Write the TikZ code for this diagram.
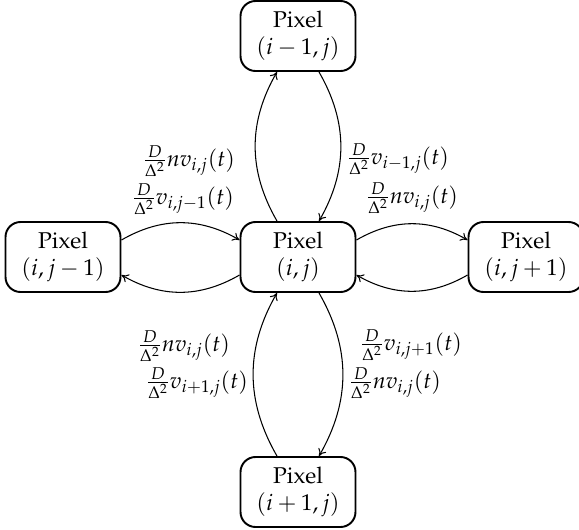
\documentclass[tikz,border=0pt]{standalone}
\usepackage[T1]{fontenc}
\usepackage{mathpazo}
\usetikzlibrary{arrows.meta}

\begin{document}
\begin{tikzpicture}[x=0.02cm, y=-0.02cm,
  pixel/.style={draw, line width=1.1pt, rounded corners=0.3cm, minimum width=2.3cm, minimum height=1.4cm, align=center, font=\fontsize{13}{15.5}\selectfont},
  flow/.style={line width=0.6pt, -{To[length=4pt,width=5pt]}, bend left=30},
  rate/.style={font=\fontsize{12.8}{15}\selectfont}]

\useasboundingbox (0,0) rectangle (579,529);

% Pixels
\node[pixel] (C) at (298,257) {Pixel\\$(i,j)$};
\node[pixel] (T) at (298,36) {Pixel\\$(i-1,j)$};
\node[pixel] (B) at (298,492) {Pixel\\$(i+1,j)$};
\node[pixel] (L) at (63,257) {Pixel\\$(i,j-1)$};
\node[pixel] (R) at (526,257) {Pixel\\$(i,j+1)$};

% Flows up and down
\draw[flow] ([xshift=-0.42cm]C.north) to ([xshift=-0.42cm]T.south);
\draw[flow] ([xshift=0.42cm]T.south) to ([xshift=0.42cm]C.north);
\draw[flow] ([xshift=-0.42cm]B.north) to ([xshift=-0.42cm]C.south);
\draw[flow] ([xshift=0.42cm]C.south) to ([xshift=0.42cm]B.north);

% Flows left and right
\draw[flow] ([yshift=0.34cm]L.east) to ([yshift=0.34cm]C.west);
\draw[flow] ([yshift=-0.36cm]C.west) to ([yshift=-0.36cm]L.east);
\draw[flow] ([yshift=0.34cm]C.east) to ([yshift=0.34cm]R.west);
\draw[flow] ([yshift=-0.36cm]R.west) to ([yshift=-0.36cm]C.east);

% Rates
\node[rate] (rCT) at (189,161) {$\frac{D}{\Delta^2} n v_{i,j}(t)$};
\node[rate] (rLC) at (183,199) {$\frac{D}{\Delta^2} v_{i,j-1}(t)$};
\node[rate] (rTC) at (398,159) {$\frac{D}{\Delta^2} v_{i-1,j}(t)$};
\node[rate] (rCR) at (412,198) {$\frac{D}{\Delta^2} n v_{i,j}(t)$};
\node[rate] (rCL) at (184,346) {$\frac{D}{\Delta^2} n v_{i,j}(t)$};
\node[rate] (rBC) at (197,383) {$\frac{D}{\Delta^2} v_{i+1,j}(t)$};
\node[rate] (rRC) at (411,345) {$\frac{D}{\Delta^2} v_{i,j+1}(t)$};
\node[rate] (rCB) at (395,383) {$\frac{D}{\Delta^2} n v_{i,j}(t)$};

\end{tikzpicture}
\end{document}
